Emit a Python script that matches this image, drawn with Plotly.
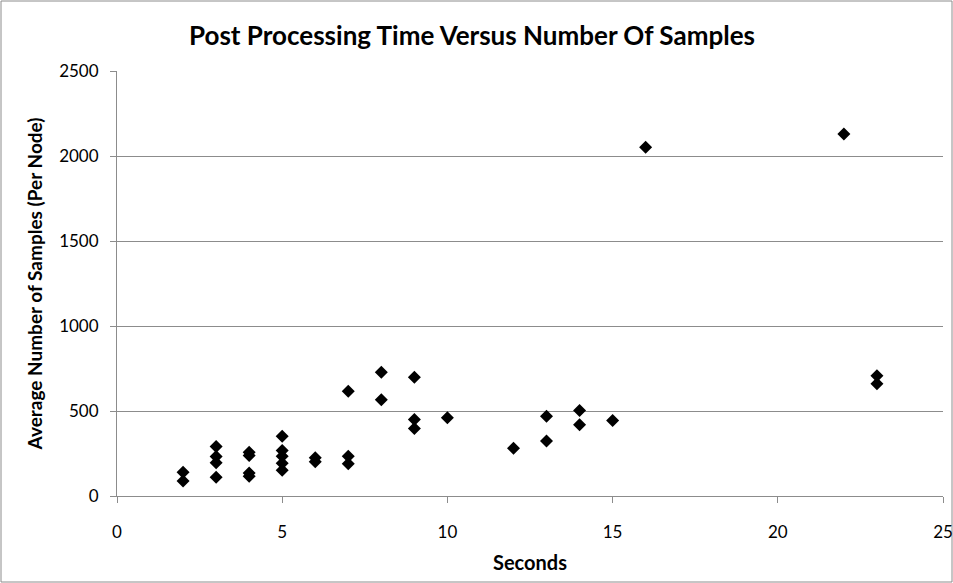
import plotly.graph_objects as go

seconds = [2, 2,
           3, 3, 3, 3,
           4, 4, 4, 4,
           5, 5, 5, 5, 5,
           6, 6,
           7, 7, 7,
           8, 8,
           9, 9, 9,
           10,
           12,
           13, 13,
           14, 14,
           15,
           16,
           22,
           23, 23]
samples = [140, 88,
           291, 232, 195, 111,
           258, 238, 136, 116,
           352, 268, 234, 193, 152,
           225, 202,
           616, 234, 190,
           728, 566,
           699, 450, 397,
           460,
           281,
           469, 324,
           503, 419,
           444,
           2051,
           2130,
           708, 660]

x_ticks = [0, 5, 10, 15, 20, 25]
y_ticks = [0, 500, 1000, 1500, 2000, 2500]

W, H = 953, 583
L, R, T, B = 117, 10, 71, 87
pw, ph = W - L - R, H - T - B

fig = go.Figure()
fig.add_trace(go.Scatter(
    x=seconds, y=samples, mode="markers",
    marker=dict(symbol="diamond", size=10, color="black"),
    showlegend=False, cliponaxis=False,
))

font = "Lato, 'Open Sans', sans-serif"
axis_common = dict(zeroline=False, showline=True, linecolor="#8c8c8c", linewidth=1,
                   ticks="outside", ticklen=6, tickcolor="#8c8c8c",
                   tickfont=dict(size=17, color="black"), automargin=False)
fig.update_layout(
    template="none",
    width=W, height=H,
    margin=dict(l=L, r=R, t=T, b=B, autoexpand=False),
    paper_bgcolor="white", plot_bgcolor="white",
    font=dict(family=font, size=14, color="black"),
    title=dict(text="<b>Post Processing Time Versus Number Of Samples</b>",
               x=472 / W, xanchor="center", y=1 - 36 / H, yanchor="middle",
               font=dict(size=26, family=font, color="black")),
    xaxis=dict(range=[0, 25], tickvals=x_ticks, showgrid=False,
               ticklabelstandoff=15,
               title=dict(text="<b>Seconds</b>", font=dict(size=20), standoff=14),
               **axis_common),
    yaxis=dict(range=[0, 2500], tickvals=y_ticks, showgrid=True, gridcolor="#8c8c8c",
               gridwidth=1, ticklabelstandoff=8,
               title=dict(text="<b>Average Number of Samples (Per Node)</b>",
                          font=dict(size=19), standoff=11),
               **axis_common),
    shapes=[dict(type="rect", xref="paper", yref="paper",
                 x0=(-L + 1) / pw, x1=(pw + R - 1) / pw,
                 y0=(-B + 1) / ph, y1=(ph + T - 1) / ph,
                 line=dict(color="#8c8c8c", width=1), fillcolor="rgba(0,0,0,0)",
                 layer="below")],
)

fig.write_html("out.html")
